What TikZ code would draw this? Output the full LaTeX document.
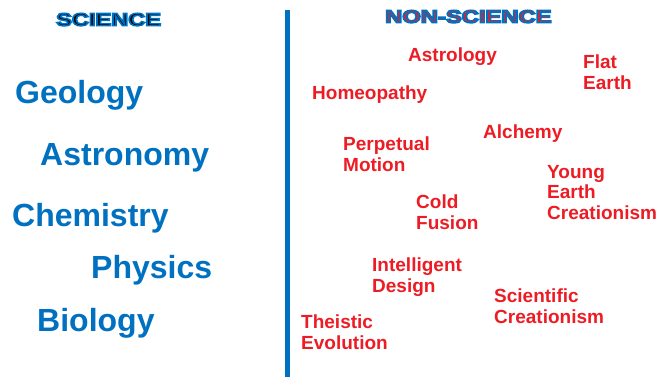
\documentclass[tikz,border=0pt]{standalone}
\usepackage{fontspec}
\setmainfont{Liberation Sans}
% bold face stroked round its edge, for the two headings
\newfontfamily\hdrfont{Liberation Sans Bold}[FakeBold=8]
\usepackage{tikz}
\usetikzlibrary{positioning}

\definecolor{sciblue}{RGB}{0,112,192}
\definecolor{pseudored}{RGB}{237,28,36}
% stroke colour only, set after \color
\newcommand{\rimblue}{\special{pdf:literal 0 0.439 0.753 RG}}

\begin{document}
\begin{tikzpicture}[x=1pt,y=-1pt, hdr/.style={anchor=north west,inner sep=0pt,
		font=\fontsize{18}{20}\selectfont\hdrfont}, sci/.style={anchor=north west,inner sep=0pt,
		text=sciblue,font=\fontsize{32}{34}\selectfont\bfseries}, non/.style={anchor=north west,
		inner sep=0pt,align=left,text=pseudored,font=\fontsize{19}{20.5}\selectfont\bfseries}]
	\useasboundingbox (0,0) rectangle (670,377);
	% headings
	\node[hdr] (0) at (56,13) {\scalebox{1.31}[1]{\color{black}\rimblue SCIENCE}};
	\node[hdr] (1) at (385,10) {\scalebox{1.32}[1]{\color{pseudored}\rimblue NON-SCIENCE}};
	% dividing line
	\coordinate (top) at (287,10);
	\coordinate (bot) at (287,377);
	\draw[sciblue,line width=5pt] (top) -- (bot);
	% sciences
	\node[sci] (2) at (15,80) {Geology};
	\node[sci] (3) at (40,143) {Astronomy};
	\node[sci] (4) at (12,203) {Chemistry};
	\node[sci] (5) at (91,255) {Physics};
	\node[sci] (6) at (37,308) {Biology};
	% non-sciences
	\node[non] (7) at (408,48) {Astrology};
	\node[non] (8) at (583,55) {Flat\\Earth};
	\node[non] (9) at (312,86) {Homeopathy};
	\node[non] (10) at (483,125) {Alchemy};
	\node[non] (11) at (343,137) {Perpetual\\Motion};
	\node[non] (12) at (547,165) {Young\\Earth\\Creationism};
	\node[non] (13) at (416,195) {Cold\\Fusion};
	\node[non] (14) at (372,258) {Intelligent\\Design};
	\node[non] (15) at (494,289) {Scientific\\Creationism};
	\node[non] (16) at (301,315) {Theistic\\Evolution};
\end{tikzpicture}
\end{document}
